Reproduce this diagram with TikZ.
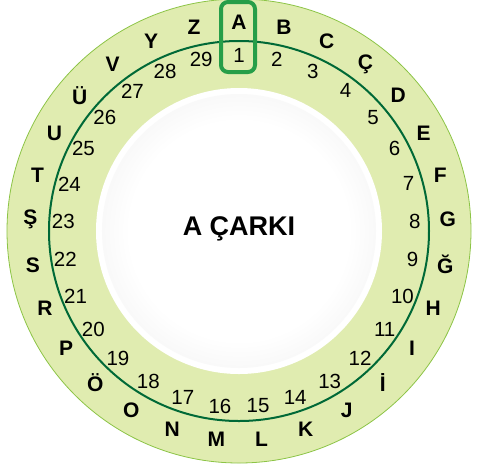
\documentclass[tikz,border=0pt]{standalone}
\usepackage{fontspec}
\setmainfont{Liberation Sans}
\usepackage{xcolor}
\usepackage{tikz}
\definecolor{ringout}{RGB}{192,220,132}
\definecolor{ringin}{RGB}{224,236,176}
\definecolor{ringedge}{RGB}{140,196,70}
\definecolor{darkline}{RGB}{0,105,55}
\definecolor{boxgreen}{RGB}{38,158,72}
\definecolor{discgray}{RGB}{218,218,218}
\pgfdeclareradialshading{ringshade}{\pgfpoint{0bp}{0bp}}{color(0bp)=(ringin); color(30.8bp)=(ringin); color(50bp)=(ringout); color(70bp)=(ringout)}
\pgfdeclareradialshading{discshade}{\pgfpoint{0bp}{0bp}}{color(0bp)=(white); color(20bp)=(white); color(50bp)=(discgray); color(70bp)=(discgray)}

\begin{document}
\begin{tikzpicture}[
  x=1pt, y=1pt,
  letter/.style={font=\bfseries\fontsize{21}{21}\selectfont, inner sep=0pt},
  num/.style={font=\fontsize{20.5}{20.5}\selectfont, inner sep=0pt},
  title/.style={font=\bfseries\fontsize{27}{27}\selectfont},
  abox/.style={draw=boxgreen, line width=4pt, rounded corners=7pt, minimum width=34pt, minimum height=70pt}
]
  \useasboundingbox (-239,-236) rectangle (239,231);

  % wheel
  \path[shading=ringshade] (0,0) circle (232);
  \draw[ringedge, line width=0.8pt] (0,0) circle (232);
  \fill[white] (0,0) circle (143);
  \path[shading=discshade] (0,0) circle (137);
  \draw[darkline, line width=2pt] (0,0) circle (190);

  % letters and numbers
  \foreach \l [count=\i] in {A,B,C,Ç,D,E,F,G,Ğ,H,I,İ,J,K,L,M,N,O,Ö,P,R,S,Ş,T,U,Ü,V,Y,Z} {
    \pgfmathsetmacro{\ang}{90-(\i-1)*360/29}
    \node[letter] (l\i) at (\ang:209) {\l};
    \node[num] (n\i) at (\ang:176) {\i};
  }

  \node[abox] (sel) at (-1,194) {};
  \node[title] (name) at (0,2) {A ÇARKI};
\end{tikzpicture}
\end{document}
